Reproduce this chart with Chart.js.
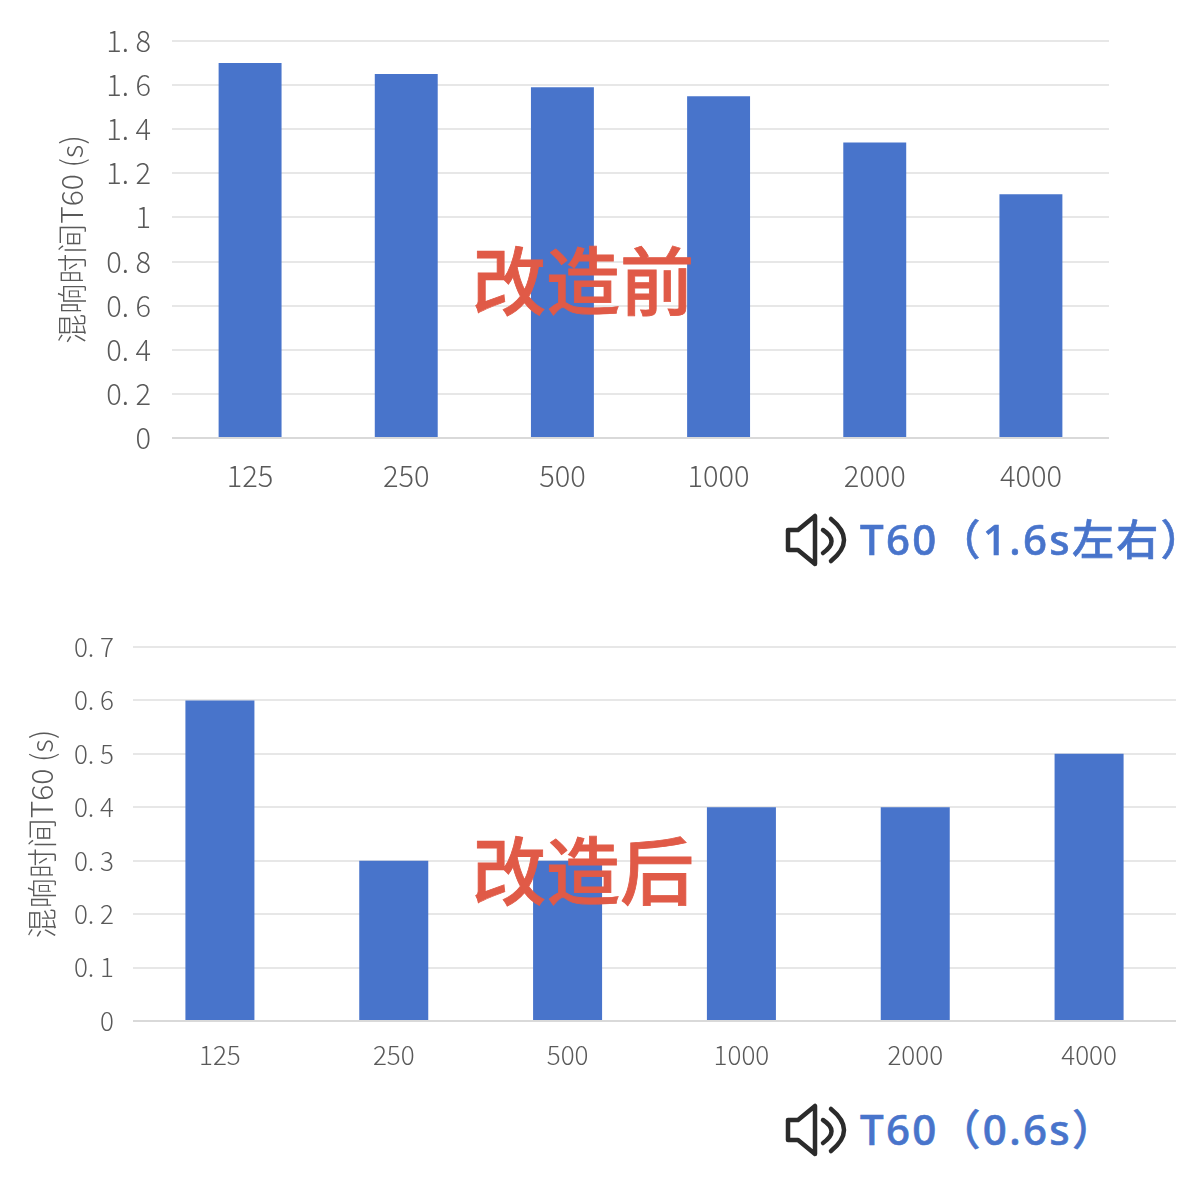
<!DOCTYPE html>
<html>
<head>
<meta charset="utf-8">
<script src="https://cdn.jsdelivr.net/npm/chart.js@4"></script>
<style>
  html, body { margin: 0; padding: 0; background: #fff; }
  body { width: 1200px; height: 1200px; position: relative; overflow: hidden; font-family: "Noto Sans CJK SC", sans-serif; }
  .chart-box { position: absolute; left: 0; width: 1200px; }
  .stage-label { position: absolute; left: 472px; font-size: 74px; font-weight: 500; -webkit-text-stroke: 0.8px #e05a47; color: #e05a47; line-height: 1; white-space: nowrap; }
  .t60-label { position: absolute; left: 860px; font-family: "Noto Sans", "Noto Sans CJK SC", sans-serif; font-size: 42px; font-weight: 500; -webkit-text-stroke: 0.6px #4874cb; letter-spacing: 2.3px; color: #4874cb; line-height: 1; white-space: nowrap; }
  .speaker { position: absolute; left: 785px; width: 62px; height: 54px; }
</style>
</head>
<body>
<div class="chart-box" style="top:0;height:590px"><canvas id="beforeChart"></canvas></div>
<div class="chart-box" style="top:600px;height:480px"><canvas id="afterChart"></canvas></div>

<div class="stage-label" style="top:240px">改造前</div>
<div class="stage-label" style="top:830px">改造后</div>

<svg class="speaker" style="top:513px" viewBox="0 0 62 54"><use href="#speakerIcon"/></svg>
<svg class="speaker" style="top:1103px" viewBox="0 0 62 54">
  <defs>
    <g id="speakerIcon" fill="none" stroke="#2b2b2b" stroke-width="4.5" stroke-linecap="round" stroke-linejoin="round">
      <path d="M3 17 H13 L30 3 V51 L13 37 H3 Z"/>
      <path d="M38 17 Q55 28 38 40"/>
      <path d="M46 6 Q72 27 46 48"/>
    </g>
  </defs>
  <use href="#speakerIcon"/>
</svg>
<div class="t60-label" style="top:518px">T60（1.6s左右）</div>
<div class="t60-label" style="top:1108px">T60（0.6s）</div>

<script>
const categories = ['125', '250', '500', '1000', '2000', '4000'];
const beforeValues = [1.7, 1.65, 1.59, 1.55, 1.34, 1.105];
const afterValues = [0.6, 0.3, 0.3, 0.4, 0.4, 0.5];
const beforeTicks = ['0', '0. 2', '0. 4', '0. 6', '0. 8', '1', '1. 2', '1. 4', '1. 6', '1. 8'];
const afterTicks = ['0', '0. 1', '0. 2', '0. 3', '0. 4', '0. 5', '0. 6', '0. 7'];
const yTitle = '混响时间T60 (s)';
const barColor = '#4874cb';

function createBarChart(id, values, tickLabels, step, box) {
  const canvas = document.getElementById(id);
  return new Chart(canvas.getContext('2d'), {
    type: 'bar',
    data: {
      labels: categories,
      datasets: [{ data: values, backgroundColor: barColor, categoryPercentage: 1, barPercentage: box.barPercentage }]
    },
    options: {
      responsive: true,
      maintainAspectRatio: false,
      animation: false,
      layout: { padding: { top: box.top, right: box.right, left: 0, bottom: 0 } },
      plugins: { legend: { display: false }, tooltip: { enabled: false } },
      scales: {
        x: {
          grid: { display: false },
          border: { display: false },
          ticks: { color: '#595959', padding: box.xPad, maxRotation: 0, font: { family: 'Noto Sans CJK SC', size: box.font, weight: 300 } },
          afterFit: scale => { scale.height = box.bottom; }
        },
        y: {
          min: 0,
          max: step * (tickLabels.length - 1),
          grid: { color: ctx => (ctx.index === 0 ? '#d9d9d9' : '#e7e7e7'), lineWidth: 2, drawTicks: false },
          border: { display: false },
          afterBuildTicks: scale => {
            scale.ticks = tickLabels.map((_, i) => ({ value: i * step }));
          },
          ticks: {
            color: '#595959',
            padding: box.yPad,
            font: { family: 'Noto Sans CJK SC', size: box.font, weight: 300 },
            callback: (value, index) => tickLabels[index]
          },
          title: {
            display: true,
            text: yTitle,
            color: '#595959',
            padding: { top: box.titleLeft, bottom: 0 },
            font: { family: 'Noto Sans CJK SC', size: box.titleFont, weight: 300 }
          },
          afterFit: scale => { scale.width = box.left; }
        }
      }
    }
  });
}

createBarChart('beforeChart', beforeValues, beforeTicks, 0.2, {
  top: 41, right: 91, left: 172, bottom: 152, barPercentage: 0.403,
  font: 29, titleFont: 30, xPad: 13, yPad: 21, titleLeft: 54
});
createBarChart('afterChart', afterValues, afterTicks, 0.1, {
  top: 47, right: 24, left: 133, bottom: 59, barPercentage: 0.397,
  font: 26, titleFont: 30, xPad: 11, yPad: 19, titleLeft: 24
});
</script>
</body>
</html>
